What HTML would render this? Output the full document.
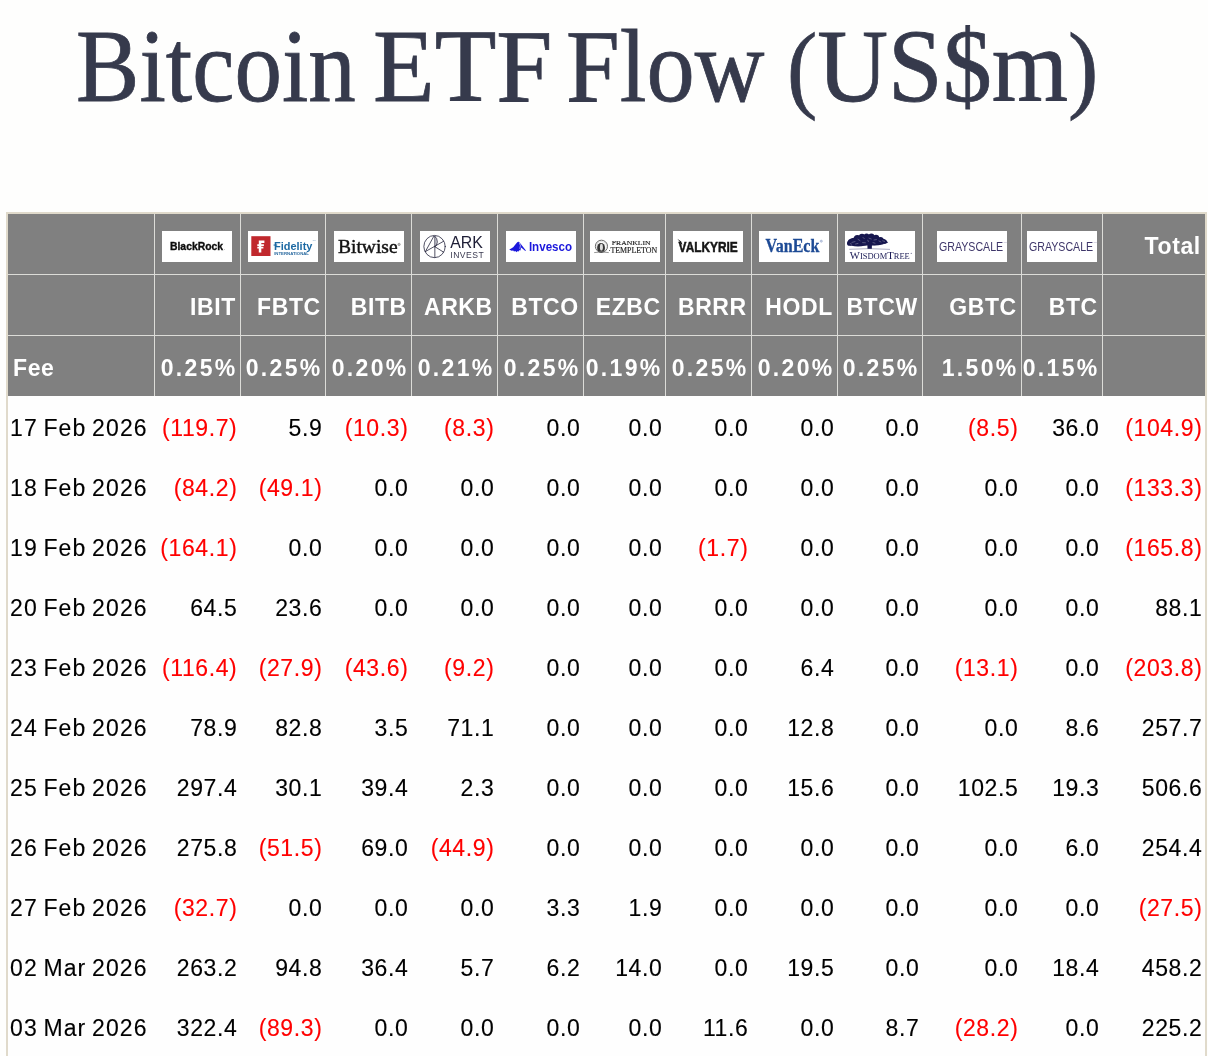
<!DOCTYPE html>
<html><head><meta charset="utf-8"><title>Bitcoin ETF Flow</title>
<style>
html,body{margin:0;padding:0;}
body{will-change:transform;width:1208px;height:1056px;overflow:hidden;background:#fefefd;position:relative;font-family:"Liberation Sans",sans-serif;}
.t{position:absolute;white-space:nowrap;line-height:1;}
.title{position:absolute;left:75.7px;top:13px;font-family:"Liberation Serif",serif;font-size:94px;color:#363a4c;white-space:nowrap;line-height:1;letter-spacing:0px;-webkit-text-stroke:0.7px #363a4c;transform-origin:0 0;transform:scale(1.012,1.11);}
.par{font-size:87px;position:relative;top:-1.5px;}
.frame{position:absolute;left:6px;top:212px;width:1197px;height:900px;border:2px solid #e0dacb;border-bottom:none;background:#fefefe;}
.hdr{position:absolute;left:8px;top:214px;width:1197px;height:182px;background:#808080;}
.hl{position:absolute;left:8px;width:1197px;height:1px;background:#dcdcd8;}
.vl{position:absolute;top:214px;width:1px;height:182px;background:#dcdcd8;}
.c{position:absolute;height:60px;line-height:60px;white-space:nowrap;}
.r{text-align:right;}
.b{font-size:23px;letter-spacing:0.6px;color:#000;-webkit-text-stroke:0.12px currentColor;}
.neg{color:#ff0000;}
.dt{letter-spacing:1.1px;word-spacing:-1.8px;}
.h{font-size:23px;letter-spacing:0.6px;color:#fff;font-weight:bold;}
.fee{letter-spacing:2.3px;}
.logo{position:absolute;top:231px;width:70px;height:31px;background:#fff;overflow:hidden;}
.logo svg{display:block;}
</style></head><body>
<div class="title" style="left:75.8px;transform:scale(1.0112,1.11)">Bitcoin</div>
<div class="title" style="left:373.01px;transform:scale(1.0738,1.11)">ETF</div>
<div class="title" style="left:566.01px;transform:scale(1.0263,1.11)">Flow</div>
<div class="title" style="left:787.04px;transform:scale(1.0438,1.11)"><span class="par">(</span>US$m<span class="par">)</span></div>
<div class="frame"></div>
<div class="hdr"></div>
<div class="hl" style="top:274px"></div><div class="hl" style="top:335px"></div>
<div class="vl" style="left:154px"></div><div class="vl" style="left:240px"></div><div class="vl" style="left:325px"></div><div class="vl" style="left:411px"></div><div class="vl" style="left:497px"></div><div class="vl" style="left:583px"></div><div class="vl" style="left:665px"></div><div class="vl" style="left:751px"></div><div class="vl" style="left:837px"></div><div class="vl" style="left:922px"></div><div class="vl" style="left:1021px"></div><div class="vl" style="left:1102px"></div>
<div class="logo" style="left:162px"><svg width="70" height="31" viewBox="0 0 70 31"><text x="8" y="18.9" font-family="Liberation Sans, sans-serif" font-size="11.2" font-weight="bold" fill="#0d0d0d" stroke="#0d0d0d" stroke-width="0.35" textLength="53" lengthAdjust="spacingAndGlyphs">BlackRock</text><circle cx="62.4" cy="18.6" r="0.35" fill="#555"/></svg></div>
<div class="logo" style="left:248px"><svg width="70" height="31" viewBox="0 0 70 31"><rect x="3.3" y="5.2" width="19.2" height="19.8" fill="#c0282d"/><path d="M10.8 9.6h5.6v2.3h-3.1v1.3h2.6v1.7h-2.6v0.9h2.1v1.7h-2.1v4h-2.5v-4h-1.5v-1.7h1.5v-0.9h-1.5v-1.7h1.5z" fill="#fff"/><text x="26" y="18.7" font-family="Liberation Sans, sans-serif" font-size="11.8" font-weight="bold" fill="#1d69a3" textLength="38.4" lengthAdjust="spacingAndGlyphs">Fidelity</text><rect x="25.6" y="13.5" width="3.6" height="1.1" fill="#1d69a3"/><text x="26.2" y="23.9" font-family="Liberation Sans, sans-serif" font-size="2.6" font-weight="bold" fill="#2a6aa0" textLength="34.8" lengthAdjust="spacingAndGlyphs">INTERNATIONAL</text><text x="64.4" y="10.2" font-family="Liberation Sans, sans-serif" font-size="2.4" fill="#7a9fc0">TM</text></svg></div>
<div class="logo" style="left:334px"><svg width="70" height="31" viewBox="0 0 70 31"><text x="4" y="22.4" font-family="Liberation Serif, serif" font-size="19.4" fill="#141414" stroke="#141414" stroke-width="0.45" textLength="59.6" lengthAdjust="spacingAndGlyphs">Bitwise</text><circle cx="65.1" cy="13.4" r="1.2" fill="#bbb" stroke="#777" stroke-width="0.5"/></svg></div>
<div class="logo" style="left:420px"><svg width="70" height="31" viewBox="0 0 70 31"><path d="M14.85 5.3 Q17.4 7 17.3 11 Q17.1 14.6 14.85 16 Z" fill="#dcdce2"/><g fill="none" stroke="#25253c" stroke-width="0.8" stroke-linecap="round"><ellipse cx="14.55" cy="15.55" rx="10.7" ry="11.1"/><path d="M13.8 5.3 L5.35 20.6 M14.85 5.3 L14.85 26.5 M5.35 20.6 L23.7 10.2 M14.85 15.7 L23.7 21.2 M14.85 5.3 Q17.4 7 17.3 11 Q17.1 14.6 14.85 16"/></g><text x="30.2" y="16.9" font-family="Liberation Sans, sans-serif" font-size="16.4" fill="#1e1e36" textLength="32.6" lengthAdjust="spacingAndGlyphs">ARK</text><text x="30.3" y="26.6" font-family="Liberation Sans, sans-serif" font-size="8.6" fill="#3a3a50" textLength="33.4" lengthAdjust="spacing">INVEST</text></svg></div>
<div class="logo" style="left:506px"><svg width="70" height="31" viewBox="0 0 70 31"><path d="M3.2 18.6 Q5.2 17.6 7.2 16.2 L10.6 12 Q11.8 10.6 13.2 10.9 L15 13.2 L19.9 19.5 L19.3 19.9 L15.2 16.4 L14.4 19.6 L13.2 19.2 L12.6 20.6 L11.2 20.2 L10.3 21.2 L9.4 20 L8 20.6 L7.2 19.6 L5.6 19.8 L4.6 19.2 Z" fill="#1b17dc"/><path d="M13.3 11.6 L14.4 14.6 L13.8 17.8" fill="none" stroke="#fff" stroke-width="0.6"/><text x="22.9" y="19.8" font-family="Liberation Sans, sans-serif" font-size="12.4" font-weight="bold" fill="#1b17dc" textLength="43.2" lengthAdjust="spacingAndGlyphs">Invesco</text></svg></div>
<div class="logo" style="left:590px"><svg width="70" height="31" viewBox="0 0 70 31"><ellipse cx="11.45" cy="15.3" rx="6.1" ry="6.1" fill="none" stroke="#5a5a5a" stroke-width="0.9"/><ellipse cx="11.45" cy="15.5" rx="5.0" ry="5.0" fill="none" stroke="#aaa" stroke-width="0.35"/><ellipse cx="11.05" cy="16.9" rx="3.9" ry="5" fill="#353535"/><ellipse cx="11.4" cy="16.2" rx="1.5" ry="3.4" fill="#dedede"/><path d="M4.2 21.6 Q11.4 20.2 18.75 21.6" fill="none" stroke="#888" stroke-width="0.9"/><circle cx="19.5" cy="19.6" r="0.5" fill="#333"/><text x="21.8" y="14.4" font-family="Liberation Serif, serif" font-size="6.8" fill="#1e1e1e" stroke="#1e1e1e" stroke-width="0.15" textLength="38.8" lengthAdjust="spacingAndGlyphs">FRANKLIN</text><text x="20.4" y="21.9" font-family="Liberation Serif, serif" font-size="7.6" fill="#1e1e1e" stroke="#1e1e1e" stroke-width="0.15" textLength="46.8" lengthAdjust="spacingAndGlyphs">TEMPLETON</text></svg></div>
<div class="logo" style="left:673px"><svg width="70" height="31" viewBox="0 0 70 31"><path d="M4.3 7.8 L8.2 10.4 L9.4 13.6 L8 13.2 L7.6 12 L6.6 11.6 L6.8 10.8 Z" fill="#161616"/><text x="5.6" y="20.6" font-family="Liberation Sans, sans-serif" font-size="14.4" font-weight="bold" fill="#161616" stroke="#161616" stroke-width="0.5" textLength="59.2" lengthAdjust="spacingAndGlyphs">VALKYRIE</text></svg></div>
<div class="logo" style="left:759px"><svg width="70" height="31" viewBox="0 0 70 31"><text x="6.6" y="21.4" font-family="Liberation Serif, serif" font-size="19.2" font-weight="bold" fill="#1d4a95" stroke="#1d4a95" stroke-width="0.3" textLength="53.8" lengthAdjust="spacingAndGlyphs">VanEck</text><circle cx="62.3" cy="10.2" r="1.1" fill="#c8d2e6" stroke="#7d93bf" stroke-width="0.4"/></svg></div>
<div class="logo" style="left:845px"><svg width="70" height="31" viewBox="0 0 70 31"><g fill="#17174f"><ellipse cx="22" cy="10" rx="19" ry="4.6"/><circle cx="4.6" cy="12.2" r="2.6"/><circle cx="8.4" cy="10.4" r="3.2"/><circle cx="12.4" cy="7.6" r="3.6"/><circle cx="17" cy="5.8" r="3.1"/><circle cx="21.6" cy="5.4" r="2.8"/><circle cx="26.4" cy="5.6" r="3"/><circle cx="31" cy="7" r="3.2"/><circle cx="35.6" cy="9" r="2.9"/><circle cx="39.6" cy="10.8" r="2.2"/><ellipse cx="13" cy="13.4" rx="9" ry="2"/><ellipse cx="30" cy="12.6" rx="9" ry="1.8"/><path d="M41 9.6 L43.2 11.4 L40.4 12.6 Z"/><path d="M22.4 12 L27 12 L26.8 17.9 L22.5 17.9 Z"/></g><g fill="none" stroke="#fff" stroke-width="0.35" opacity="0.8" stroke-linecap="round"><path d="M7 11.4 L10 10.6 M13 8.4 L15 9.6 M18 6.4 L19.4 7.8 M24 7.2 L26.2 8 M29 9 L31.4 8.6 M34 10 L36 11 M10.6 13 L13 12.4 M17.6 11.6 L20.4 11.8 M28 11.6 L30 12.2 M37.6 9.8 L39.6 10.4 M22.8 9.2 L23.4 10.6 M5.2 12.6 L6.6 13.2"/></g><path d="M4.2 18.3 Q24 16.9 45 18.4" fill="none" stroke="#6d6d95" stroke-width="0.55"/><text x="4.8" y="27.6" font-family="Liberation Serif, serif" font-size="9.6" fill="#1b1b55" textLength="60" lengthAdjust="spacingAndGlyphs">W<tspan font-size="7.6">ISDOM</tspan>T<tspan font-size="7.6">REE</tspan></text><circle cx="66.3" cy="22.4" r="0.7" fill="#8a8aa8"/></svg></div>
<div class="logo" style="left:937px"><svg width="70" height="31" viewBox="0 0 70 31"><text x="2" y="19.7" font-family="Liberation Sans, sans-serif" font-size="12.2" fill="#3e3669" textLength="64.2" lengthAdjust="spacingAndGlyphs">GRAYSCALE</text><text x="66.6" y="12.2" font-family="Liberation Sans, sans-serif" font-size="2.2" fill="#9a94b4">TM</text></svg></div>
<div class="logo" style="left:1027px"><svg width="70" height="31" viewBox="0 0 70 31"><text x="2" y="19.7" font-family="Liberation Sans, sans-serif" font-size="12.2" fill="#3e3669" textLength="64.2" lengthAdjust="spacingAndGlyphs">GRAYSCALE</text><text x="66.6" y="12.2" font-family="Liberation Sans, sans-serif" font-size="2.2" fill="#9a94b4">TM</text></svg></div>
<div class="c r h" style="left:1103px;top:215.8px;width:97.8px">Total</div>
<div class="c r h" style="left:155px;top:277px;width:80.8px">IBIT</div><div class="c r h" style="left:241px;top:277px;width:79.8px">FBTC</div><div class="c r h" style="left:326px;top:277px;width:80.8px">BITB</div><div class="c r h" style="left:412px;top:277px;width:80.8px">ARKB</div><div class="c r h" style="left:498px;top:277px;width:80.8px">BTCO</div><div class="c r h" style="left:584px;top:277px;width:76.8px">EZBC</div><div class="c r h" style="left:666px;top:277px;width:80.8px">BRRR</div><div class="c r h" style="left:752px;top:277px;width:80.8px">HODL</div><div class="c r h" style="left:838px;top:277px;width:79.8px">BTCW</div><div class="c r h" style="left:923px;top:277px;width:93.8px">GBTC</div><div class="c r h" style="left:1022px;top:277px;width:75.8px">BTC</div>
<div class="c h" style="left:13px;top:338px">Fee</div><div class="c r h fee" style="left:155px;top:338px;width:82.5px">0.25%</div><div class="c r h fee" style="left:241px;top:338px;width:81.5px">0.25%</div><div class="c r h fee" style="left:326px;top:338px;width:82.5px">0.20%</div><div class="c r h fee" style="left:412px;top:338px;width:82.5px">0.21%</div><div class="c r h fee" style="left:498px;top:338px;width:82.5px">0.25%</div><div class="c r h fee" style="left:584px;top:338px;width:78.5px">0.19%</div><div class="c r h fee" style="left:666px;top:338px;width:82.5px">0.25%</div><div class="c r h fee" style="left:752px;top:338px;width:82.5px">0.20%</div><div class="c r h fee" style="left:838px;top:338px;width:81.5px">0.25%</div><div class="c r h fee" style="left:923px;top:338px;width:95.5px">1.50%</div><div class="c r h fee" style="left:1022px;top:338px;width:77.5px">0.15%</div>
<div class="c b dt" style="left:10px;top:397.9px">17 Feb 2026</div><div class="c r b neg" style="left:155px;top:397.9px;width:82.4px">(119.7)</div><div class="c r b" style="left:241px;top:397.9px;width:81.4px">5.9</div><div class="c r b neg" style="left:326px;top:397.9px;width:82.4px">(10.3)</div><div class="c r b neg" style="left:412px;top:397.9px;width:82.4px">(8.3)</div><div class="c r b" style="left:498px;top:397.9px;width:82.4px">0.0</div><div class="c r b" style="left:584px;top:397.9px;width:78.4px">0.0</div><div class="c r b" style="left:666px;top:397.9px;width:82.4px">0.0</div><div class="c r b" style="left:752px;top:397.9px;width:82.4px">0.0</div><div class="c r b" style="left:838px;top:397.9px;width:81.4px">0.0</div><div class="c r b neg" style="left:923px;top:397.9px;width:95.4px">(8.5)</div><div class="c r b" style="left:1022px;top:397.9px;width:77.4px">36.0</div><div class="c r b neg" style="left:1103px;top:397.9px;width:99.4px">(104.9)</div>
<div class="c b dt" style="left:10px;top:457.9px">18 Feb 2026</div><div class="c r b neg" style="left:155px;top:457.9px;width:82.4px">(84.2)</div><div class="c r b neg" style="left:241px;top:457.9px;width:81.4px">(49.1)</div><div class="c r b" style="left:326px;top:457.9px;width:82.4px">0.0</div><div class="c r b" style="left:412px;top:457.9px;width:82.4px">0.0</div><div class="c r b" style="left:498px;top:457.9px;width:82.4px">0.0</div><div class="c r b" style="left:584px;top:457.9px;width:78.4px">0.0</div><div class="c r b" style="left:666px;top:457.9px;width:82.4px">0.0</div><div class="c r b" style="left:752px;top:457.9px;width:82.4px">0.0</div><div class="c r b" style="left:838px;top:457.9px;width:81.4px">0.0</div><div class="c r b" style="left:923px;top:457.9px;width:95.4px">0.0</div><div class="c r b" style="left:1022px;top:457.9px;width:77.4px">0.0</div><div class="c r b neg" style="left:1103px;top:457.9px;width:99.4px">(133.3)</div>
<div class="c b dt" style="left:10px;top:517.9px">19 Feb 2026</div><div class="c r b neg" style="left:155px;top:517.9px;width:82.4px">(164.1)</div><div class="c r b" style="left:241px;top:517.9px;width:81.4px">0.0</div><div class="c r b" style="left:326px;top:517.9px;width:82.4px">0.0</div><div class="c r b" style="left:412px;top:517.9px;width:82.4px">0.0</div><div class="c r b" style="left:498px;top:517.9px;width:82.4px">0.0</div><div class="c r b" style="left:584px;top:517.9px;width:78.4px">0.0</div><div class="c r b neg" style="left:666px;top:517.9px;width:82.4px">(1.7)</div><div class="c r b" style="left:752px;top:517.9px;width:82.4px">0.0</div><div class="c r b" style="left:838px;top:517.9px;width:81.4px">0.0</div><div class="c r b" style="left:923px;top:517.9px;width:95.4px">0.0</div><div class="c r b" style="left:1022px;top:517.9px;width:77.4px">0.0</div><div class="c r b neg" style="left:1103px;top:517.9px;width:99.4px">(165.8)</div>
<div class="c b dt" style="left:10px;top:577.9px">20 Feb 2026</div><div class="c r b" style="left:155px;top:577.9px;width:82.4px">64.5</div><div class="c r b" style="left:241px;top:577.9px;width:81.4px">23.6</div><div class="c r b" style="left:326px;top:577.9px;width:82.4px">0.0</div><div class="c r b" style="left:412px;top:577.9px;width:82.4px">0.0</div><div class="c r b" style="left:498px;top:577.9px;width:82.4px">0.0</div><div class="c r b" style="left:584px;top:577.9px;width:78.4px">0.0</div><div class="c r b" style="left:666px;top:577.9px;width:82.4px">0.0</div><div class="c r b" style="left:752px;top:577.9px;width:82.4px">0.0</div><div class="c r b" style="left:838px;top:577.9px;width:81.4px">0.0</div><div class="c r b" style="left:923px;top:577.9px;width:95.4px">0.0</div><div class="c r b" style="left:1022px;top:577.9px;width:77.4px">0.0</div><div class="c r b" style="left:1103px;top:577.9px;width:99.4px">88.1</div>
<div class="c b dt" style="left:10px;top:637.9px">23 Feb 2026</div><div class="c r b neg" style="left:155px;top:637.9px;width:82.4px">(116.4)</div><div class="c r b neg" style="left:241px;top:637.9px;width:81.4px">(27.9)</div><div class="c r b neg" style="left:326px;top:637.9px;width:82.4px">(43.6)</div><div class="c r b neg" style="left:412px;top:637.9px;width:82.4px">(9.2)</div><div class="c r b" style="left:498px;top:637.9px;width:82.4px">0.0</div><div class="c r b" style="left:584px;top:637.9px;width:78.4px">0.0</div><div class="c r b" style="left:666px;top:637.9px;width:82.4px">0.0</div><div class="c r b" style="left:752px;top:637.9px;width:82.4px">6.4</div><div class="c r b" style="left:838px;top:637.9px;width:81.4px">0.0</div><div class="c r b neg" style="left:923px;top:637.9px;width:95.4px">(13.1)</div><div class="c r b" style="left:1022px;top:637.9px;width:77.4px">0.0</div><div class="c r b neg" style="left:1103px;top:637.9px;width:99.4px">(203.8)</div>
<div class="c b dt" style="left:10px;top:697.9px">24 Feb 2026</div><div class="c r b" style="left:155px;top:697.9px;width:82.4px">78.9</div><div class="c r b" style="left:241px;top:697.9px;width:81.4px">82.8</div><div class="c r b" style="left:326px;top:697.9px;width:82.4px">3.5</div><div class="c r b" style="left:412px;top:697.9px;width:82.4px">71.1</div><div class="c r b" style="left:498px;top:697.9px;width:82.4px">0.0</div><div class="c r b" style="left:584px;top:697.9px;width:78.4px">0.0</div><div class="c r b" style="left:666px;top:697.9px;width:82.4px">0.0</div><div class="c r b" style="left:752px;top:697.9px;width:82.4px">12.8</div><div class="c r b" style="left:838px;top:697.9px;width:81.4px">0.0</div><div class="c r b" style="left:923px;top:697.9px;width:95.4px">0.0</div><div class="c r b" style="left:1022px;top:697.9px;width:77.4px">8.6</div><div class="c r b" style="left:1103px;top:697.9px;width:99.4px">257.7</div>
<div class="c b dt" style="left:10px;top:757.9px">25 Feb 2026</div><div class="c r b" style="left:155px;top:757.9px;width:82.4px">297.4</div><div class="c r b" style="left:241px;top:757.9px;width:81.4px">30.1</div><div class="c r b" style="left:326px;top:757.9px;width:82.4px">39.4</div><div class="c r b" style="left:412px;top:757.9px;width:82.4px">2.3</div><div class="c r b" style="left:498px;top:757.9px;width:82.4px">0.0</div><div class="c r b" style="left:584px;top:757.9px;width:78.4px">0.0</div><div class="c r b" style="left:666px;top:757.9px;width:82.4px">0.0</div><div class="c r b" style="left:752px;top:757.9px;width:82.4px">15.6</div><div class="c r b" style="left:838px;top:757.9px;width:81.4px">0.0</div><div class="c r b" style="left:923px;top:757.9px;width:95.4px">102.5</div><div class="c r b" style="left:1022px;top:757.9px;width:77.4px">19.3</div><div class="c r b" style="left:1103px;top:757.9px;width:99.4px">506.6</div>
<div class="c b dt" style="left:10px;top:817.9px">26 Feb 2026</div><div class="c r b" style="left:155px;top:817.9px;width:82.4px">275.8</div><div class="c r b neg" style="left:241px;top:817.9px;width:81.4px">(51.5)</div><div class="c r b" style="left:326px;top:817.9px;width:82.4px">69.0</div><div class="c r b neg" style="left:412px;top:817.9px;width:82.4px">(44.9)</div><div class="c r b" style="left:498px;top:817.9px;width:82.4px">0.0</div><div class="c r b" style="left:584px;top:817.9px;width:78.4px">0.0</div><div class="c r b" style="left:666px;top:817.9px;width:82.4px">0.0</div><div class="c r b" style="left:752px;top:817.9px;width:82.4px">0.0</div><div class="c r b" style="left:838px;top:817.9px;width:81.4px">0.0</div><div class="c r b" style="left:923px;top:817.9px;width:95.4px">0.0</div><div class="c r b" style="left:1022px;top:817.9px;width:77.4px">6.0</div><div class="c r b" style="left:1103px;top:817.9px;width:99.4px">254.4</div>
<div class="c b dt" style="left:10px;top:877.9px">27 Feb 2026</div><div class="c r b neg" style="left:155px;top:877.9px;width:82.4px">(32.7)</div><div class="c r b" style="left:241px;top:877.9px;width:81.4px">0.0</div><div class="c r b" style="left:326px;top:877.9px;width:82.4px">0.0</div><div class="c r b" style="left:412px;top:877.9px;width:82.4px">0.0</div><div class="c r b" style="left:498px;top:877.9px;width:82.4px">3.3</div><div class="c r b" style="left:584px;top:877.9px;width:78.4px">1.9</div><div class="c r b" style="left:666px;top:877.9px;width:82.4px">0.0</div><div class="c r b" style="left:752px;top:877.9px;width:82.4px">0.0</div><div class="c r b" style="left:838px;top:877.9px;width:81.4px">0.0</div><div class="c r b" style="left:923px;top:877.9px;width:95.4px">0.0</div><div class="c r b" style="left:1022px;top:877.9px;width:77.4px">0.0</div><div class="c r b neg" style="left:1103px;top:877.9px;width:99.4px">(27.5)</div>
<div class="c b dt" style="left:10px;top:937.9px">02 Mar 2026</div><div class="c r b" style="left:155px;top:937.9px;width:82.4px">263.2</div><div class="c r b" style="left:241px;top:937.9px;width:81.4px">94.8</div><div class="c r b" style="left:326px;top:937.9px;width:82.4px">36.4</div><div class="c r b" style="left:412px;top:937.9px;width:82.4px">5.7</div><div class="c r b" style="left:498px;top:937.9px;width:82.4px">6.2</div><div class="c r b" style="left:584px;top:937.9px;width:78.4px">14.0</div><div class="c r b" style="left:666px;top:937.9px;width:82.4px">0.0</div><div class="c r b" style="left:752px;top:937.9px;width:82.4px">19.5</div><div class="c r b" style="left:838px;top:937.9px;width:81.4px">0.0</div><div class="c r b" style="left:923px;top:937.9px;width:95.4px">0.0</div><div class="c r b" style="left:1022px;top:937.9px;width:77.4px">18.4</div><div class="c r b" style="left:1103px;top:937.9px;width:99.4px">458.2</div>
<div class="c b dt" style="left:10px;top:997.9px">03 Mar 2026</div><div class="c r b" style="left:155px;top:997.9px;width:82.4px">322.4</div><div class="c r b neg" style="left:241px;top:997.9px;width:81.4px">(89.3)</div><div class="c r b" style="left:326px;top:997.9px;width:82.4px">0.0</div><div class="c r b" style="left:412px;top:997.9px;width:82.4px">0.0</div><div class="c r b" style="left:498px;top:997.9px;width:82.4px">0.0</div><div class="c r b" style="left:584px;top:997.9px;width:78.4px">0.0</div><div class="c r b" style="left:666px;top:997.9px;width:82.4px">11.6</div><div class="c r b" style="left:752px;top:997.9px;width:82.4px">0.0</div><div class="c r b" style="left:838px;top:997.9px;width:81.4px">8.7</div><div class="c r b neg" style="left:923px;top:997.9px;width:95.4px">(28.2)</div><div class="c r b" style="left:1022px;top:997.9px;width:77.4px">0.0</div><div class="c r b" style="left:1103px;top:997.9px;width:99.4px">225.2</div>
</body></html>
